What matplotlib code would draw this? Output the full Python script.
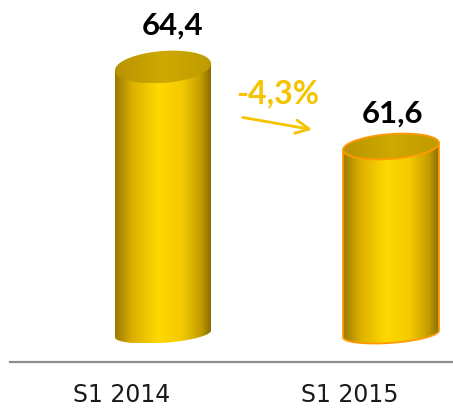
import numpy as np
import matplotlib
matplotlib.use('Agg')
import matplotlib.pyplot as plt
from matplotlib.colors import LinearSegmentedColormap
from matplotlib.patches import Polygon

periods = ['S1 2014', 'S1 2015']
values  = [64.4, 61.6]
floor   = 55.0          # value where the cylinders stand (truncated axis)

change = (values[1] - values[0]) / values[0] * 100
change_label = ('%.1f%%' % change).replace('.', ',')

gold   = '#f5c300'
orange = '#ff9a00'

fig = plt.figure(figsize=(4.53, 4.11), dpi=100)
ax = fig.add_axes([10/453, 49/411, 443/453, 362/411])
ax.set_xlim(-0.491, 1.452)
ax.set_ylim(54.01, 66.76)

side_cmap = LinearSegmentedColormap.from_list('side', [
    (0.0, '#9a7a00'), (0.18, '#dcb000'), (0.45, '#ffd900'),
    (0.7, '#f4c900'), (0.9, '#c29c00'), (1.0, '#8a6c00')])
top_cmap = LinearSegmentedColormap.from_list('top', [
    (0.0, '#b89300'), (0.5, '#cfa900'), (1.0, '#bf9b00')])

to_px   = ax.transData.transform
to_data = ax.transData.inverted().transform

def ellipse(cx, cy, a, b, k, t):
    # ellipse drawn in pixel space, sheared so the right side sits higher
    p0 = to_px((cx, cy))
    dx = a * np.cos(t)
    dy = b * np.sin(t) + k * dx
    return to_data(np.column_stack([p0[0] + dx, p0[1] + dy]))

offset  = 0.18          # cylinders sit right of the category label
half_w  = 48            # px
top_b   = [16, 12.5]    # perspective: the higher cap looks more open
lab_off = [(7, 23), (1, 17)]

for i, v in enumerate(values):
    cx = i + offset
    b = top_b[i]
    top_ring = ellipse(cx, v, half_w, b, 0.07, np.linspace(0, 2*np.pi, 200))
    bot_arc  = ellipse(cx, floor, half_w, 9, 0.07, np.linspace(np.pi, 2*np.pi, 100))
    tl = ellipse(cx, v, half_w, b, 0.07, np.array([np.pi]))
    tr = ellipse(cx, v, half_w, b, 0.07, np.array([0.0]))
    body = np.vstack([tl, bot_arc, tr])

    x0, x1 = body[:, 0].min(), body[:, 0].max()
    y0, y1 = body[:, 1].min(), body[:, 1].max()
    patch = Polygon(body, closed=True, facecolor='none', edgecolor='none')
    ax.add_patch(patch)
    im = ax.imshow(np.linspace(0, 1, 256).reshape(1, -1), cmap=side_cmap,
                   extent=[x0, x1, y0, y1], aspect='auto', zorder=2)
    im.set_clip_path(patch)

    tpatch = Polygon(top_ring, closed=True, facecolor='none', edgecolor='none')
    ax.add_patch(tpatch)
    tx0, tx1 = top_ring[:, 0].min(), top_ring[:, 0].max()
    ty0, ty1 = top_ring[:, 1].min(), top_ring[:, 1].max()
    im2 = ax.imshow(np.linspace(0, 1, 256).reshape(1, -1), cmap=top_cmap,
                    extent=[tx0, tx1, ty0, ty1], aspect='auto', zorder=3)
    im2.set_clip_path(tpatch)

    if i == 1:
        ax.plot(body[:, 0], body[:, 1], color=orange, lw=1.3, zorder=4)
        ax.plot(top_ring[:, 0], top_ring[:, 1], color=orange, lw=1.3, zorder=4)

    ax.annotate(('%.1f' % v).replace('.', ','), xy=(cx, v),
                xytext=lab_off[i], textcoords='offset points',
                ha='center', va='baseline', fontsize=22.5,
                fontweight='bold', family='Lato', color='black')

ax.text(0.684, 63.13, change_label, ha='center', va='baseline',
        fontsize=23, fontweight='bold', family='Lato', color=gold)
ax.annotate('', xy=(0.846, 62.18), xytext=(0.518, 62.64),
            arrowprops=dict(arrowstyle='->', color=gold, lw=2,
                            mutation_scale=24))

ax.set_xlim(-0.491, 1.452)
ax.set_ylim(54.01, 66.76)
for s in ['top', 'left', 'right']:
    ax.spines[s].set_visible(False)
ax.spines['bottom'].set_color('#8c8c8c')
ax.spines['bottom'].set_linewidth(1.6)
ax.set_yticks([])
ax.set_xticks(range(len(periods)))
ax.set_xticklabels(periods, fontsize=17, family='DejaVu Sans', color='#1a1a1a')
ax.tick_params(axis='x', length=0, pad=15)

fig.savefig('out.png', dpi=100)
